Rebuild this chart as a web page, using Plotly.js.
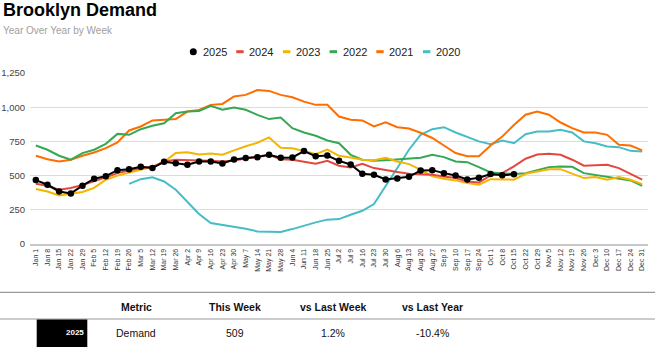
<!DOCTYPE html>
<html><head><meta charset="utf-8">
<script src="https://cdn.plot.ly/plotly-3.0.1.min.js"></script>
<style>html,body{margin:0;padding:0;background:#fff;overflow:hidden}#chart{width:655px;height:347px}</style>
</head><body><div id="chart"></div>
<script>
const weeks = ['Jan 1','Jan 8','Jan 15','Jan 22','Jan 29','Feb 5','Feb 12','Feb 19','Feb 26','Mar 5','Mar 12','Mar 19','Mar 26','Apr 2','Apr 9','Apr 16','Apr 23','Apr 30','May 7','May 14','May 21','May 28','Jun 4','Jun 11','Jun 18','Jun 25','Jul 2','Jul 9','Jul 16','Jul 23','Jul 30','Aug 6','Aug 13','Aug 20','Aug 27','Sep 3','Sep 10','Sep 17','Sep 24','Oct 1','Oct 8','Oct 15','Oct 22','Oct 29','Nov 5','Nov 12','Nov 19','Nov 26','Dec 3','Dec 10','Dec 17','Dec 24','Dec 31'];
const seriesNames = ['2025','2024','2023','2022','2021','2020'];
const seriesColors = ['#000000','#e2483d','#f4b400','#34a853','#ff6d01','#46bdc6'];
const y2025 = [467,433,384,370,426,477,496,540,547,564,555,601,591,579,603,603,589,617,628,635,652,630,633,679,642,647,608,581,513,506,472,479,491,538,540,518,501,472,484,511,503,509];
const y2024 = [440,426,397,409,431,457,487,518,538,555,562,603,616,616,611,608,603,611,628,640,652,620,616,603,586,608,572,560,586,555,538,526,513,511,506,494,482,457,450,501,518,568,623,654,659,652,616,572,577,579,555,513,470];
const y2023 = [402,384,355,370,380,410,470,500,520,540,565,600,665,670,655,662,652,684,715,740,779,703,700,680,656,690,645,633,616,613,630,603,584,543,494,477,465,445,433,474,470,470,513,530,547,547,513,482,489,470,489,470,438];
const y2022 = [720,689,645,616,664,689,732,805,798,839,864,883,956,968,973,1010,981,998,981,944,913,925,847,815,791,757,737,652,616,608,613,620,625,630,652,635,603,598,562,523,518,511,518,538,562,567,564,518,506,494,482,465,426];
const y2021 = [645,620,603,616,645,669,701,742,830,859,903,908,913,968,980,1017,1024,1078,1090,1126,1119,1090,1073,1041,1017,1017,932,908,903,859,890,854,844,813,775,720,665,642,642,720,785,870,945,968,945,888,847,815,815,798,725,720,684];
const y2020 = [null,null,null,null,null,null,null,null,440,474,487,457,397,311,219,153,141,125,112,92,92,88,109,134,158,178,182,214,243,292,421,555,689,798,839,854,815,781,750,730,757,737,803,822,822,835,815,750,737,713,708,681,676];
const tableHeaders = ['Metric','This Week','vs Last Week','vs Last Year'];
const tableRow = ['Demand','509','1.2%','-10.4%'];
const tableYear = '2025';
const chartTitle = 'Brooklyn Demand';
const chartSubtitle = 'Year Over Year by Week';

const W=655,H=347,L=30,R=7,T=73,B=103;
const pw=W-L-R, ph=H-T-B;
const X=px=>(px-L)/pw, Y=py=>(H-B-py)/ph;
const FONT='Liberation Sans, Arial, sans-serif';

const data=[y2025,y2024,y2023,y2022,y2021,y2020];
const traces=[];
for(let k=data.length-1;k>=0;k--){
  const t={type:'scatter',x:weeks.slice(0,data[k].length),y:data[k],name:seriesNames[k],
    mode:k===0?'lines+markers':'lines',line:{color:seriesColors[k],width:2},showlegend:false,hoverinfo:'skip'};
  if(k===0) t.marker={size:6.5,color:'#000'};
  traces.push(t);
}

const shapes=[], ann=[];
ann.push({xref:'paper',yref:'paper',x:X(1),y:Y(10),xanchor:'left',yanchor:'middle',text:'<b>'+chartTitle+'</b>',showarrow:false,font:{family:FONT,size:18,color:'#000'}});
ann.push({xref:'paper',yref:'paper',x:X(1),y:Y(30.5),xanchor:'left',yanchor:'middle',text:chartSubtitle,showarrow:false,font:{family:FONT,size:10,color:'#9e9e9e'}});
seriesNames.forEach((n,k)=>{
  const cx=193.3+46.67*k, cy=51.7;
  if(k===0){
    shapes.push({type:'circle',xref:'paper',yref:'paper',x0:X(cx-3.5),x1:X(cx+3.5),y0:Y(cy+3.5),y1:Y(cy-3.5),fillcolor:seriesColors[k],line:{width:0}});
  } else {
    shapes.push({type:'line',xref:'paper',yref:'paper',x0:X(cx-3.7),x1:X(cx+3.7),y0:Y(cy),y1:Y(cy),line:{color:seriesColors[k],width:3}});
  }
  ann.push({xref:'paper',yref:'paper',x:X(cx+7.5),y:Y(cy),xanchor:'left',yanchor:'middle',text:n,showarrow:false,font:{family:FONT,size:11,color:'#222'}});
});
shapes.push({type:'line',xref:'paper',yref:'paper',x0:X(0),x1:X(W),y0:Y(292.3),y1:Y(292.3),line:{color:'#9a9a9a',width:1.2}});
shapes.push({type:'line',xref:'paper',yref:'paper',x0:X(0),x1:X(W),y0:Y(319),y1:Y(319),line:{color:'#9a9a9a',width:1.2}});
shapes.push({type:'rect',xref:'paper',yref:'paper',x0:X(36.7),x1:X(87.3),y0:Y(319.6),y1:Y(348),fillcolor:'#000',line:{width:0}});
ann.push({xref:'paper',yref:'paper',x:X(86),y:Y(332.5),xanchor:'right',yanchor:'middle',text:'<b>'+tableYear+'</b>',showarrow:false,font:{family:FONT,size:8,color:'#fff'}});
const colX=[136,235,333,432];
tableHeaders.forEach((h,i)=>{
  ann.push({xref:'paper',yref:'paper',x:X(colX[i]),y:Y(306.7),xanchor:'center',yanchor:'middle',text:'<b>'+h+'</b>',showarrow:false,font:{family:FONT,size:10.5,color:'#111'}});
  ann.push({xref:'paper',yref:'paper',x:X(colX[i]),y:Y(333),xanchor:'center',yanchor:'middle',text:tableRow[i],showarrow:false,font:{family:FONT,size:10.5,color:'#111'}});
});

const layout={width:W,height:H,margin:{l:L,r:R,t:T,b:B,pad:0},paper_bgcolor:'#fff',plot_bgcolor:'#fff',
  font:{family:FONT,color:'#333'},showlegend:false,
  xaxis:{type:'category',categoryarray:weeks,range:[-0.5,52.5],tickangle:-90,tickfont:{size:7,color:'#333'},
    showgrid:false,zeroline:false,showline:true,linecolor:'#c8c8c8',linewidth:2,ticks:'',fixedrange:true,automargin:false},
  yaxis:{range:[0,1250],dtick:250,tick0:0,tickformat:',d',tickfont:{size:9.5,color:'#444'},gridcolor:'#dcdcdc',gridwidth:1,
    zeroline:false,showline:false,ticks:'',ticklabelstandoff:4,fixedrange:true,automargin:false},
  shapes:shapes,annotations:ann};
Plotly.newPlot('chart',traces,layout,{displayModeBar:false,staticPlot:true});
</script></body></html>
